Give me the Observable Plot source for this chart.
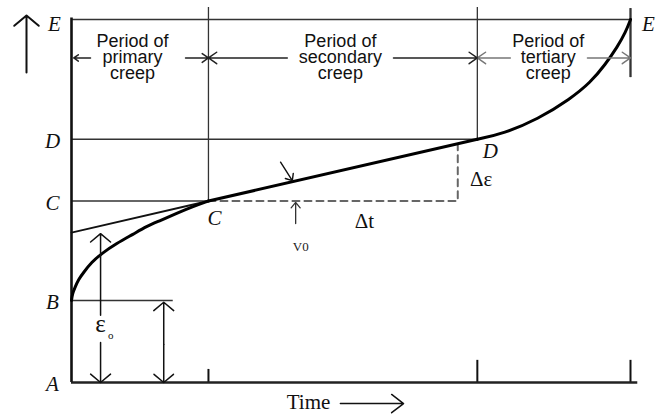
<!DOCTYPE html>
<html><head><meta charset="utf-8">
<script src="https://cdn.jsdelivr.net/npm/d3@7"></script>
<script src="https://cdn.jsdelivr.net/npm/@observablehq/plot@0.6"></script>
<style>body{margin:0;background:#fff}</style>
</head><body><div id="chart"></div>
<script>
// ---- data (time and strain in arbitrary units, 0..100) ----
const levelNames = ["A", "B", "C", "D", "E"];
const levelStrain = [0, 22.6, 50, 67, 100];
const levelLineEnd = [0, 18.2, 24.5, 72.6, 100];

const phaseNames = ["Period of\nprimary\ncreep", "Period of\nsecondary\ncreep", "Period of\ntertiary\ncreep"];
const phaseStart = [0.4, 24.5, 72.6];
const phaseEnd = [24.5, 72.6, 100];
const phaseLabelTime = [10.9, 48.1, 85.3];
const phaseGapStart = [3.4, 38.6, 78.5];
const phaseGapEnd = [20.4, 57.6, 92.3];
const phaseArrowColor = ["#222", "#222", "#777"];
const phaseLevel = 89.4;
const boundaryBottom = [50, 67, 84];
const boundaryTop = [103.3, 103.3, 103];
const tickTop = [3.6, 6.1, 6.1];

const primaryTime = [0, 0.18, 0.54, 1.25, 2.15, 3.58, 5.37, 8.05, 11.1, 13.4, 15.9, 18.8, 21.8, 24.5];
const primaryStrain = [22.6, 24.5, 25.9, 28.4, 30.3, 33.1, 35.5, 38.3, 40.9, 43.0, 44.6, 46.6, 48.5, 50];
const secondaryTime = [24.5, 72.6];
const secondaryStrain = [50, 67];
const tertiaryTime = [72.6, 77.3, 83.4, 89.3, 92.8, 95.5, 97.7, 99.1, 100];
const tertiaryStrain = [67, 68.6, 72.5, 78.2, 82.6, 87.6, 92.6, 96.4, 100];

const tangentTime = [0, 24.5];
const tangentStrain = [41.3, 50];
const dashTime = [24.5, 69.1, 69.1];
const dashStrain = [50, 50, 65.3];

const epsArrowTime = [5.2, 16.5];
const epsArrowTop = [41.0, 22.1];
const epsArrowGapTop = [18.5, 10.5];
const epsArrowGapBottom = [11, 10.5];

// ---- build tables ----
const pts = (xs, ys) => xs.map((x, i) => ({x, y: ys[i]}));
const levels = levelNames.map((n, i) => ({name: n, y: levelStrain[i], x2: levelLineEnd[i]}));
const phases = phaseNames.map((n, i) => ({
  name: n, x1: phaseStart[i], x2: phaseEnd[i], xl: phaseLabelTime[i],
  g1: phaseGapStart[i], g2: phaseGapEnd[i], color: phaseArrowColor[i],
  bot: boundaryBottom[i], top: boundaryTop[i], tick: tickTop[i]
}));
const epsArrows = epsArrowTime.map((x, i) => ({x, top: epsArrowTop[i], gt: epsArrowGapTop[i], gb: epsArrowGapBottom[i]}));

const serif = "'Liberation Serif', 'Times New Roman', serif";
const sans = "'Liberation Sans', Arial, sans-serif";

const chart = Plot.plot({
  width: 663, height: 414,
  marginLeft: 71, marginRight: 33, marginTop: 19, marginBottom: 32,
  x: {domain: [0, 100]},
  y: {domain: [0, 100]},
  axis: null,
  style: {background: "white", color: "#111"},
  marks: [
    // level lines
    Plot.ruleY(levels.filter(d => d.x2 > 0), {y: "y", x1: 0, x2: "x2", stroke: "#333", strokeWidth: 1.6}),
    // boundaries
    Plot.ruleX(phases, {x: "x2", y1: "bot", y2: "top", stroke: "#333", strokeWidth: 1.3}),
    Plot.ruleX(phases.slice(2), {x: "x2", y1: "bot", y2: "top", stroke: "#333", strokeWidth: 2.2}),
    Plot.ruleX(phases, {x: "x2", y1: 0, y2: "tick", stroke: "#111", strokeWidth: 2}),
    // axes
    Plot.ruleX([0], {y1: 0, y2: 100.4, stroke: "#111", strokeWidth: 2.6}),
    Plot.ruleY([0], {x1: 0, x2: 101.3, stroke: "#222", strokeWidth: 2.4}),
    // tangent and dashed construction
    Plot.line(pts(tangentTime, tangentStrain), {x: "x", y: "y", stroke: "#111", strokeWidth: 1.8}),
    Plot.line(pts(dashTime, dashStrain), {x: "x", y: "y", stroke: "#666", strokeWidth: 2, strokeDasharray: "7,5"}),
    // creep curve
    Plot.line(pts(primaryTime, primaryStrain), {x: "x", y: "y", curve: "basis", stroke: "#000", strokeWidth: 3}),
    Plot.line(pts(secondaryTime, secondaryStrain), {x: "x", y: "y", stroke: "#000", strokeWidth: 3}),
    Plot.line(pts(tertiaryTime, tertiaryStrain), {x: "x", y: "y", curve: "basis", stroke: "#000", strokeWidth: 3}),
    // period arrows
    Plot.arrow(phases, {x1: "g1", x2: "x1", y1: phaseLevel, y2: phaseLevel, stroke: "color", strokeWidth: 1.5, headLength: 10, headAngle: 70}),
    Plot.arrow(phases, {x1: "g2", x2: "x2", y1: phaseLevel, y2: phaseLevel, stroke: "color", strokeWidth: 1.5, headLength: 10, headAngle: 70}),
    Plot.text(phases, {x: "xl", y: phaseLevel, text: "name", fontFamily: sans, fontSize: 18, lineHeight: 0.9, fill: "#111"}),
    // eps0 double arrows
    Plot.arrow(epsArrows, {x: "x", y1: "gt", y2: "top", strokeWidth: 1.5, headLength: 13, headAngle: 100}),
    Plot.arrow(epsArrows, {x: "x", y1: "gb", y2: 0, strokeWidth: 1.5, headLength: 13, headAngle: 100}),
    Plot.text(["ε"], {x: 5.2, y: 16.0, fontFamily: serif, fontSize: 25, fill: "#111"}),
    Plot.text(["o"], {x: 7.0, y: 12.9, fontFamily: serif, fontSize: 11, fill: "#111"}),
    // slope arrows
    Plot.arrow([0], {x1: 37.4, y1: 60.7, x2: 39.5, y2: 55.6, strokeWidth: 1.4, headLength: 10, headAngle: 80}),
    Plot.arrow([0], {x1: 40.1, y1: 43.8, x2: 40.1, y2: 49.6, strokeWidth: 1.3, headLength: 10, headAngle: 80, stroke: "#333"}),
    Plot.text(["V0"], {x: 41.0, y: 37.3, fontFamily: serif, fontSize: 13, fill: "#222"}),
    Plot.text(["Δε"], {x: 73.3, y: 55.9, fontFamily: serif, fontSize: 21, fill: "#111"}),
    Plot.text(["Δt"], {x: 52.4, y: 44.4, fontFamily: serif, fontSize: 21, fill: "#111"}),
    // level letters
    Plot.text(levels.filter(d => d.name !== "E"), {x: 0, y: "y", text: "name", dx: -19, dy: 2, fontFamily: serif, fontStyle: "italic", fontSize: 21, fill: "#111"}),
    Plot.text(levels.filter(d => d.name === "E"), {x: 0, y: "y", text: "name", dx: -17, dy: 5, fontFamily: serif, fontStyle: "italic", fontSize: 21, fill: "#111"}),
    Plot.text(levels.filter(d => d.name === "E"), {x: 100, y: "y", text: "name", dx: 18, dy: 5, fontFamily: serif, fontStyle: "italic", fontSize: 21, fill: "#111"}),
    Plot.text(levels.filter(d => d.name === "D"), {x: 72.6, y: "y", text: "name", dx: 13, dy: 12, fontFamily: serif, fontStyle: "italic", fontSize: 21, fill: "#111"}),
    Plot.text(levels.filter(d => d.name === "C"), {x: 24.5, y: "y", text: "name", dx: 6, dy: 17, fontFamily: serif, fontStyle: "italic", fontSize: 21, fill: "#111"}),
    // axis arrows and title
    Plot.arrow([0], {x: -8.05, y1: 85.4, y2: 101.1, strokeWidth: 2, headLength: 12, headAngle: 100}),
    Plot.text(["Time"], {x: 42.4, y: -5.5, fontFamily: serif, fontSize: 21, fill: "#111"}),
    Plot.arrow([0], {x1: 48.1, x2: 59.4, y: -5.8, strokeWidth: 1.5, headLength: 15, headAngle: 75})
  ]
});
document.getElementById("chart").appendChild(chart);
</script></body></html>
